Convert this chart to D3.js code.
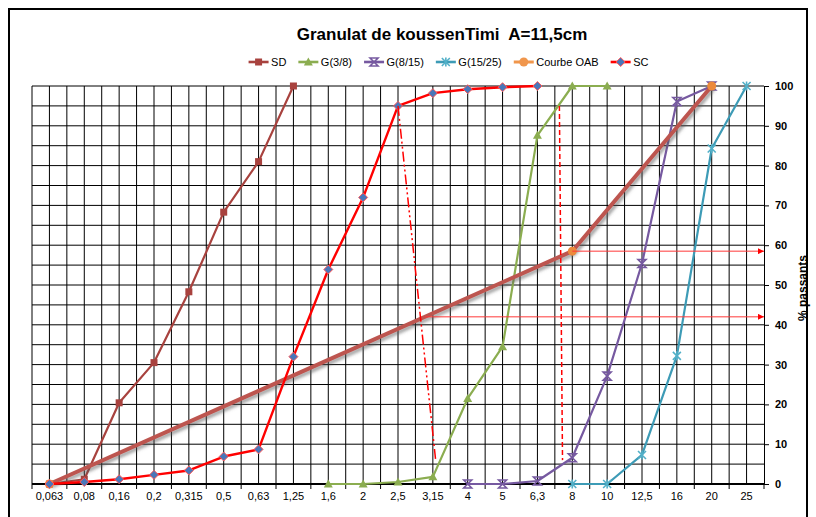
<!DOCTYPE html>
<html><head><meta charset="utf-8">
<script src="https://cdn.jsdelivr.net/npm/d3@7"></script>
<style>
html,body{margin:0;padding:0;background:#fff;}
svg{display:block;font-family:"Liberation Sans",Arial,sans-serif;}
.title{white-space:pre;}
</style></head><body>
<svg id="chart" width="816" height="517"></svg>
<script>
// Sieve openings (mm), shown as evenly spaced categories
const sieves = ["0,063","0,08","0,16","0,2","0,315","0,5","0,63","1,25","1,6","2","2,5","3,15","4","5","6,3","8","10","12,5","16","20","25"];
const percentTicks = [0,10,20,30,40,50,60,70,80,90,100];

// Percent passing for each material
const sdSieves = ["0,063","0,08","0,16","0,2","0,315","0,5","0,63","1,25"];
const sdPassing = [0,1.2,20.4,30.5,48.3,68.3,81.0,100];

const g38Sieves = ["1,6","2","2,5","3,15","4","5","6,3","8","10"];
const g38Passing = [0,0,0.5,1.8,21.5,34.5,87.6,100,100];

const g815Sieves = ["4","5","6,3","8","10","12,5","16","20"];
const g815Passing = [0,0,0.75,6.6,27.1,55.4,96.1,100];

const g1525Sieves = ["8","10","12,5","16","20","25"];
const g1525Passing = [0,0,7.3,32.2,84.3,100];

const oabSieves = ["0,063","8","20"];
const oabPassing = [0,58.5,100];

const scSieves = ["0,063","0,08","0,16","0,2","0,315","0,5","0,63","1,25","1,6","2","2,5","3,15","4","5","6,3"];
const scPassing = [0,0.5,1.2,2.3,3.4,6.9,8.7,32.0,53.9,72.0,95.0,98.2,99.2,99.7,100];

// Construction lines: [sieve, offset in bands from its centre, percent]
const dropLine = [["2,5",0,95],["3,15",0.08,6]];
const splitLine = [["6,3",0.63,95],["6,3",0.72,6]];
const readLevels = [58.5,42];

const svg = d3.select("#chart");
const plot = {left:32, right:764, top:86, bottom:484};

const defs = svg.append("defs");
const shadow = defs.append("filter").attr("id","shadow").attr("x","-10%").attr("y","-10%").attr("width","130%").attr("height","130%");
shadow.append("feDropShadow").attr("dx",2).attr("dy",2.5).attr("stdDeviation",1.4)
  .attr("flood-color","#555").attr("flood-opacity",0.55);
defs.append("marker").attr("id","arrow").attr("viewBox","0 0 10 10")
  .attr("refX",10).attr("refY",5).attr("markerWidth",7).attr("markerHeight",6)
  .attr("markerUnits","userSpaceOnUse").attr("orient","auto")
  .append("path").attr("d","M0,0 L10,5 L0,10 Z").attr("fill","#ff0000");

// outer frame
svg.append("rect").attr("x",9).attr("y",9).attr("width",798).attr("height",530)
  .attr("fill","none").attr("stroke","#000").attr("stroke-width",2);

const x = d3.scaleBand().domain(sieves).range([plot.left, plot.right]).padding(0);
const bw = x.bandwidth();
const y = d3.scaleLinear().domain([0,100]).range([plot.bottom, plot.top]);
const cx = s => x(s) + bw/2;
const at = p => [x(p[0]) + bw*(0.5 + p[1]), y(p[2])];

// grid: every 5 % and every half band
const grid = svg.append("g").attr("stroke","#000").attr("stroke-width",1);
d3.range(5,101,5).forEach(v => {
  grid.append("line").attr("x1",plot.left).attr("x2",plot.right).attr("y1",y(v)).attr("y2",y(v));
});
d3.range(0, sieves.length*2).forEach(k => {
  const xx = plot.left + k*bw/2;
  grid.append("line").attr("x1",xx).attr("x2",xx).attr("y1",plot.top).attr("y2",plot.bottom);
});

// bottom axis
const xAxis = d3.axisBottom(x).tickSize(0).tickPadding(8);
const gx = svg.append("g").attr("transform",`translate(0,${plot.bottom})`).call(xAxis);
gx.select(".domain").remove();
gx.selectAll("text").attr("font-size",11).attr("font-family","Liberation Sans, Arial, sans-serif").attr("fill","#000");
d3.range(0, sieves.length+1).forEach(i => {
  const xx = plot.left + i*bw;
  svg.append("line").attr("x1",xx).attr("x2",xx).attr("y1",plot.bottom).attr("y2",plot.bottom+5)
    .attr("stroke","#000").attr("stroke-width",1);
});
svg.append("line").attr("x1",plot.left).attr("x2",plot.right).attr("y1",plot.bottom).attr("y2",plot.bottom)
  .attr("stroke","#000").attr("stroke-width",2.2);

// right axis
const yAxis = d3.axisRight(y).tickValues(percentTicks).tickSize(5).tickPadding(6);
const gy = svg.append("g").attr("transform",`translate(${plot.right},0)`).call(yAxis);
gy.select(".domain").attr("stroke","#000");
gy.selectAll(".tick line").attr("stroke","#000");
gy.selectAll("text").attr("font-size",11).attr("font-weight","bold")
  .attr("font-family","Liberation Sans, Arial, sans-serif").attr("fill","#000");
svg.append("text").attr("transform",`translate(807,${(plot.top+plot.bottom)/2 + 3}) rotate(-90)`)
  .attr("text-anchor","middle").attr("font-size",12).attr("font-weight","bold").text("% passants");

// title
svg.append("text").attr("class","title").attr("x",442).attr("y",40).attr("text-anchor","middle")
  .attr("font-size",17).attr("font-weight","bold").text("Granulat de koussenTimi  A=11,5cm");

// marker shapes
function drawMarker(g, kind, color, x0, y0) {
  if (kind === "square") {
    g.append("rect").attr("x",x0-3.5).attr("y",y0-3.5).attr("width",7).attr("height",7).attr("fill",color);
  } else if (kind === "triangle") {
    g.append("path").attr("d",`M${x0},${y0-4.5} L${x0+4.5},${y0+3.5} L${x0-4.5},${y0+3.5} Z`).attr("fill",color);
  } else if (kind === "hourglass") {
    g.append("path").attr("d",`M${x0-4},${y0-4} L${x0+4},${y0-4} L${x0-4},${y0+4} L${x0+4},${y0+4} Z`)
      .attr("fill","none").attr("stroke",color).attr("stroke-width",1.6);
  } else if (kind === "asterisk") {
    g.append("path").attr("d",`M${x0-4},${y0-4} L${x0+4},${y0+4} M${x0-4},${y0+4} L${x0+4},${y0-4} M${x0},${y0-4.5} L${x0},${y0+4.5}`)
      .attr("fill","none").attr("stroke",color).attr("stroke-width",1.6);
  } else if (kind === "circle") {
    g.append("circle").attr("cx",x0).attr("cy",y0).attr("r",4.5).attr("fill",color);
  } else if (kind === "diamond") {
    g.append("path").attr("d",`M${x0},${y0-4.5} L${x0+4.5},${y0} L${x0},${y0+4.5} L${x0-4.5},${y0} Z`)
      .attr("fill","#4a76b8").attr("stroke","#ff5a5a").attr("stroke-width",1);
  }
}

const series = [
  {name:"SD", sieves:sdSieves, values:sdPassing, color:"#a8423e", marker:"square", mColor:"#a8423e", width:2.2},
  {name:"G(3/8)", sieves:g38Sieves, values:g38Passing, color:"#8bad50", marker:"triangle", mColor:"#8bad50", width:2.2},
  {name:"G(8/15)", sieves:g815Sieves, values:g815Passing, color:"#7659a0", marker:"hourglass", mColor:"#7659a0", width:2.2},
  {name:"G(15/25)", sieves:g1525Sieves, values:g1525Passing, color:"#3d9bb6", marker:"asterisk", mColor:"#52b0c8", width:2.2},
  {name:"Courbe OAB", sieves:oabSieves, values:oabPassing, color:"#bd554f", marker:"circle", mColor:"#ec8a3c", width:4, legendColor:"#f0964c", shadow:true},
  {name:"SC", sieves:scSieves, values:scPassing, color:"#ff0000", marker:"diamond", mColor:"#4a76b8", width:2.4}
];

const line = d3.line().x(d => cx(d[0])).y(d => y(d[1]));
const marksG = svg.append("g");

series.forEach(s => {
  const pts = s.sieves.map((k,i) => [k, s.values[i]]);
  const g = marksG.append("g");
  g.append("path").attr("d", line(pts)).attr("fill","none").attr("stroke",s.color)
    .attr("stroke-width",s.width).attr("stroke-linejoin","round")
    .attr("filter", s.shadow ? "url(#shadow)" : null);
  pts.forEach(p => drawMarker(g, s.marker, s.mColor, cx(p[0]), y(p[1])));

  if (s.name === "Courbe OAB") {
    // dash-dot construction line from SC at 2,5 down towards 3,15
    const dl = dropLine.map(at);
    svg.append("line").attr("x1",dl[0][0]).attr("y1",dl[0][1]).attr("x2",dl[1][0]).attr("y2",dl[1][1])
      .attr("stroke","#ff0000").attr("stroke-width",1.5).attr("stroke-dasharray","10,3,2,3,2,3");
    const sl = splitLine.map(at);
    svg.append("line").attr("x1",sl[0][0]).attr("y1",sl[0][1]).attr("x2",sl[1][0]).attr("y2",sl[1][1])
      .attr("stroke","#ff0000").attr("stroke-width",1.5).attr("stroke-dasharray","5,3");
    // reading arrows from the OAB line to the percent axis
    readLevels.forEach(v => {
      let x0 = null;
      for (let i = 0; i < pts.length-1; i++) {
        const a = pts[i], b = pts[i+1];
        if (v >= a[1] && v <= b[1]) {
          const t = (v - a[1])/(b[1]-a[1]);
          x0 = cx(a[0]) + t*(cx(b[0]) - cx(a[0]));
          break;
        }
      }
      svg.append("line").attr("x1",x0).attr("x2",plot.right).attr("y1",y(v)).attr("y2",y(v))
        .attr("stroke","#ff3838").attr("stroke-width",1).attr("marker-end","url(#arrow)");
    });
  }
});

// legend
const legend = svg.append("g");
const ly = 62;
let lx = 0;
series.forEach(s => {
  const it = legend.append("g");
  const c = s.legendColor || s.color;
  it.append("line").attr("x1",lx).attr("x2",lx+20).attr("y1",ly).attr("y2",ly).attr("stroke",c).attr("stroke-width",s.name==="Courbe OAB"?3:2.6);
  drawMarker(it, s.marker, s.name==="Courbe OAB" ? s.legendColor : s.mColor, lx+10, ly);
  const t = it.append("text").attr("x",lx+22.5).attr("y",ly+4).attr("font-size",11).text(s.name);
  lx += 22.5 + t.node().getComputedTextLength() + 12;
});
const lw = lx - 12;
legend.attr("transform",`translate(${448.5 - lw/2},0)`);
</script>
</body></html>
